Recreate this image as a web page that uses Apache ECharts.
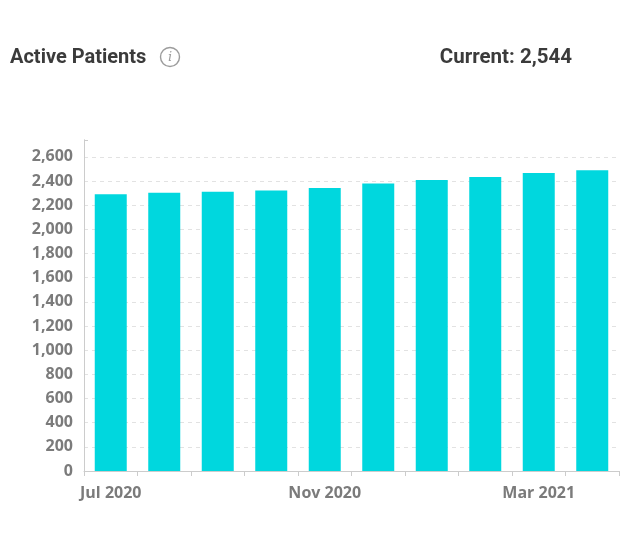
<!DOCTYPE html>
<html>
<head>
<meta charset="utf-8">
<script src="https://cdn.jsdelivr.net/npm/echarts@6/dist/echarts.min.js"></script>
<style>
html,body{margin:0;padding:0;background:#fff;}
#chart{width:634px;height:544px;}
</style>
</head>
<body>
<div id="chart"></div>
<script>
const titleText = 'Active Patients';
const currentText = 'Current: 2,544';
const categories = ['Jul 2020','Aug 2020','Sep 2020','Oct 2020','Nov 2020','Dec 2020','Jan 2021','Feb 2021','Mar 2021','Apr 2021'];
const patients = [2291, 2304, 2312, 2321, 2343, 2379, 2409, 2434, 2467, 2490];
const yMin = 0;
const yMax = 2740;
const yInterval = 200;

const headFont = "'Roboto', 'Noto Sans', sans-serif";
const axisFont = "'Open Sans', 'Noto Sans', sans-serif";

const chart = echarts.init(document.getElementById('chart'), null, {renderer: 'canvas'});
chart.setOption({
  backgroundColor: '#ffffff',
  animation: false,
  title: [
    {text: titleText, left: 10, top: 47, padding: 0, textStyle: {fontFamily: headFont, fontSize: 20, fontWeight: 'bold', color: '#3b3b3b', lineHeight: 22}},
    {text: currentText, right: 62, top: 47, padding: 0, textStyle: {fontFamily: headFont, fontSize: 20.5, fontWeight: 'bold', color: '#3b3b3b', lineHeight: 22}}
  ],
  graphic: [
    {type: 'circle', shape: {cx: 170, cy: 57, r: 9.5}, style: {fill: 'none', stroke: '#9c9c9c', lineWidth: 1.4}},
    {type: 'text', x: 170, y: 57.5, style: {text: 'i', fontFamily: "'DejaVu Serif', serif", fontStyle: 'italic', fontSize: 13, fill: '#9c9c9c', align: 'center', verticalAlign: 'middle'}}
  ],
  grid: {left: 84, right: 15, top: 140, bottom: 73, containLabel: false},
  xAxis: {
    type: 'category',
    data: categories,
    boundaryGap: true,
    axisLine: {show: true, lineStyle: {color: '#cccccc', width: 1}},
    axisTick: {show: true, interval: 0, alignWithLabel: false, length: 5, lineStyle: {color: '#cccccc'}},
    axisLabel: {interval: 3, margin: 14, fontFamily: axisFont, fontSize: 16, fontWeight: 'bold', color: '#7b7b7b'},
    splitLine: {show: false}
  },
  yAxis: [
    {
      type: 'value',
      min: yMin,
      max: yMax,
      interval: yInterval,
      axisLine: {show: true, lineStyle: {color: '#cccccc'}},
      axisTick: {show: false},
      axisLabel: {
        margin: 11,
        showMaxLabel: false,
        fontFamily: axisFont, fontSize: 16, fontWeight: 'bold', color: '#7b7b7b',
        formatter: v => v.toLocaleString('en-US')
      },
      splitLine: {show: true, showMaxLine: false, lineStyle: {color: '#e2e2e2', type: [4, 4], width: 1}}
    },
    {
      type: 'value',
      position: 'left',
      min: yMin,
      max: yMax,
      interval: yMax,
      axisLine: {show: true, lineStyle: {color: '#cccccc'}},
      axisTick: {show: true, inside: true, length: 4, lineStyle: {color: '#cccccc'}},
      axisLabel: {show: false},
      splitLine: {show: false}
    }
  ],
  series: [{
    type: 'bar',
    data: patients,
    barWidth: 32,
    itemStyle: {color: '#00d7de'},
    emphasis: {disabled: true}
  }]
});
</script>
</body>
</html>
